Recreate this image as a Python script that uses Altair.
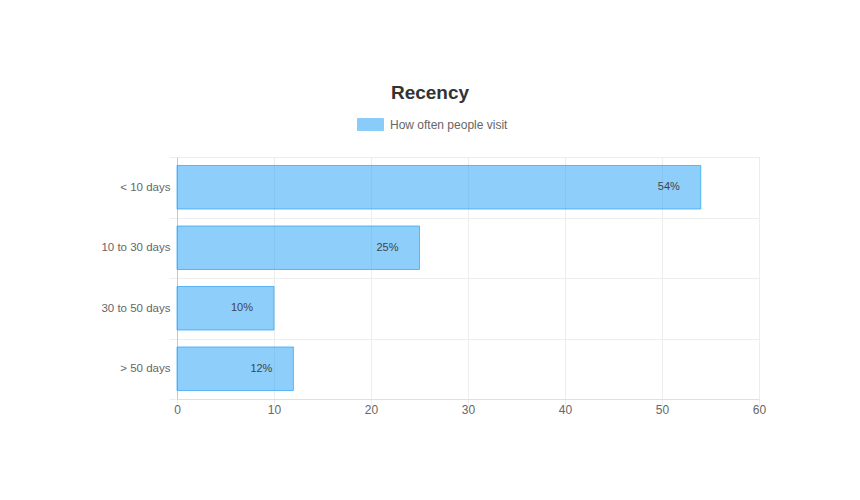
import altair as alt
import pandas as pd

categories = ["< 10 days", "10 to 30 days", "30 to 50 days", "> 50 days"]
values = [54, 25, 10, 12]
labels = ["54%", "25%", "10%", "12%"]
series_name = "How often people visit"
x_ticks = [0, 10, 20, 30, 40, 50, 60]

df = pd.DataFrame({"cat": categories, "value": values, "label": labels,
                   "series": [series_name] * len(categories)})

FONT = "Liberation Sans"
FILL = "#2aa3f7"

color = alt.Color(
    "series:N",
    scale=alt.Scale(range=[FILL]),
    legend=alt.Legend(
        title=None, orient="none", legendX=180, legendY=-46,
        symbolType="M-1,-0.46H1V0.46H-1Z", symbolSize=676,
        symbolFillColor=FILL, symbolOpacity=0.55, symbolStrokeColor=FILL,
        symbolStrokeWidth=1, labelFont=FONT, labelFontSize=12,
        labelColor="#666666", labelOffset=6, padding=0,
    ),
)

y = alt.Y(
    "cat:N", sort=categories, title=None,
    scale=alt.Scale(paddingInner=0, paddingOuter=0),
    axis=alt.Axis(
        tickBand="extent", grid=True, gridColor="#ededed", ticks=True,
        tickColor="#ededed", tickSize=8, labelPadding=-1, domainColor="#c8c8c8",
        labelFont=FONT, labelFontSize=11.5, labelColor="#666666",
    ),
)
x = alt.X(
    "value:Q", title=None, scale=alt.Scale(domain=[0, 60], nice=False),
    axis=alt.Axis(
        values=x_ticks, grid=True, gridColor="#ededed", tickColor="#ededed",
        tickSize=7, labelPadding=-2, labelFlush=False, domainColor="#e0e0e0",
        labelFont=FONT, labelFontSize=12, labelColor="#666666",
    ),
)

bars = alt.Chart(df).mark_bar(
    height={"band": 0.72},
    fillOpacity=0.53, stroke=FILL, strokeOpacity=0.7, strokeWidth=1
).encode(x=x, y=y, color=color)

text = alt.Chart(df).mark_text(
    dx=-32, align="center", baseline="middle", font=FONT, fontSize=11,
    color="#444444"
).encode(x=alt.X("value:Q"), y=alt.Y("cat:N", sort=categories), text="label:N")

chart = alt.layer(bars, text).properties(
    width=582, height=242,
    title=alt.TitleParams(
        "Recency", anchor="middle", dx=-38, offset=8, font=FONT,
        fontSize=19, fontWeight="bold", color="#333333",
    ),
    autosize=alt.AutoSizeParams(type="none"),
    padding={"left": 169, "top": 149, "right": 80, "bottom": 80},
).configure_view(stroke=None).configure(background="white")

chart.save("out.html", embed_options={"renderer": "svg", "actions": False})
